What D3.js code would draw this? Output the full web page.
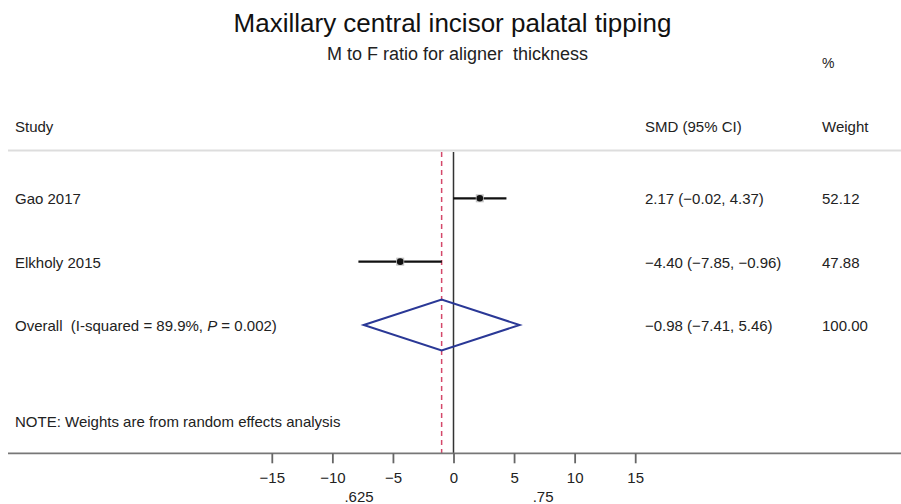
<!DOCTYPE html>
<html><head><meta charset="utf-8">
<script src="https://cdn.jsdelivr.net/npm/d3@7/dist/d3.min.js"></script>
<style>body{margin:0;background:#fff}svg{display:block}text{font-family:"Liberation Sans",Arial,sans-serif;fill:#222;white-space:pre}</style>
</head><body><svg id="c" width="901" height="504"></svg>
<script>
const studies = ["Gao 2017", "Elkholy 2015"];
const smd = [2.17, -4.40];
const lower = [-0.02, -7.85];
const upper = [4.37, -0.96];
const weights = ["52.12", "47.88"];
const overall = {label: "Overall", est: -0.98, lo: -7.41, hi: 5.46, weight: "100.00"};
const ticks = [-15, -10, -5, 0, 5, 10, 15];
const extraLabels = [{v: -7.8, t: ".625"}, {v: 7.4, t: ".75"}];

const svg = d3.select("#c");
const x = d3.scaleLinear().domain([-15, 15]).range([271.8, 635.2]);
const rowY = d3.scalePoint().domain([...studies, "Overall"]).range([198.3, 325]);
const fmt = v => (v < 0 ? "\u2212" : "") + Math.abs(v).toFixed(2);
const ciText = (e, l, h) => `${fmt(e)} (${fmt(l)}, ${fmt(h)})`;

// titles
svg.append("text").attr("x", 452.5).attr("y", 31.5).attr("text-anchor", "middle")
  .style("font-size", "26px").style("fill", "#111").text("Maxillary central incisor palatal tipping");
svg.append("text").attr("x", 457.5).attr("y", 60).attr("text-anchor", "middle")
  .style("font-size", "18px").text("M to F ratio for aligner  thickness");

// headers
svg.append("text").attr("x", 822).attr("y", 68).style("font-size", "14px").text("%");
svg.append("text").attr("x", 15).attr("y", 132).style("font-size", "15px").text("Study");
svg.append("text").attr("x", 645).attr("y", 132).style("font-size", "15px").text("SMD (95% CI)");
svg.append("text").attr("x", 822).attr("y", 132).style("font-size", "15px").text("Weight");
svg.append("line").attr("x1", 8).attr("x2", 901).attr("y1", 150.5).attr("y2", 150.5)
  .attr("stroke", "#ddd").attr("stroke-width", 2);

// reference lines
svg.append("line").attr("x1", x(0)).attr("x2", x(0)).attr("y1", 152).attr("y2", 453)
  .attr("stroke", "#333").attr("stroke-width", 1.5);
svg.append("line").attr("x1", x(overall.est)).attr("x2", x(overall.est)).attr("y1", 152).attr("y2", 453)
  .attr("stroke", "#d4486a").attr("stroke-width", 1.5).attr("stroke-dasharray", "5,4");

// study rows
studies.forEach((s, i) => {
  const y = rowY(s);
  svg.append("text").attr("x", 15).attr("y", y + 6).style("font-size", "15px").text(s);
  svg.append("text").attr("x", 645).attr("y", y + 6).style("font-size", "15px").text(ciText(smd[i], lower[i], upper[i]));
  svg.append("text").attr("x", 822).attr("y", y + 6).style("font-size", "15px").text(weights[i]);
  svg.append("line").attr("x1", x(lower[i])).attr("x2", x(upper[i])).attr("y1", y).attr("y2", y)
    .attr("stroke", "#111").attr("stroke-width", 2.2);
  svg.append("rect").attr("x", x(smd[i]) - 4).attr("y", y - 4).attr("width", 8).attr("height", 8)
    .attr("fill", "#c4c4c4");
  svg.append("circle").attr("cx", x(smd[i])).attr("cy", y).attr("r", 3.3).attr("fill", "#111");
});

// overall
const oy = rowY("Overall");
const ot = svg.append("text").attr("x", 15).attr("y", oy + 6).style("font-size", "15px");
ot.append("tspan").text("Overall  (I-squared = 89.9%, ");
ot.append("tspan").style("font-style", "italic").text("P");
ot.append("tspan").text(" = 0.002)");
svg.append("text").attr("x", 645).attr("y", oy + 6).style("font-size", "15px").text(ciText(overall.est, overall.lo, overall.hi));
svg.append("text").attr("x", 822).attr("y", oy + 6).style("font-size", "15px").text(overall.weight);
const dh = 25.5;
svg.append("path").attr("d", d3.line()([
  [x(overall.lo), oy], [x(overall.est), oy - dh], [x(overall.hi), oy], [x(overall.est), oy + dh]
]) + "Z").attr("fill", "none").attr("stroke", "#2a3896").attr("stroke-width", 2);

// note
svg.append("text").attr("x", 15).attr("y", 427).style("font-size", "15px").text("NOTE: Weights are from random effects analysis");

// axis
svg.append("line").attr("x1", 8).attr("x2", 901).attr("y1", 453.3).attr("y2", 453.3)
  .attr("stroke", "#777").attr("stroke-width", 1.8);
const ax = svg.append("g").attr("transform", "translate(0,453.3)")
  .call(d3.axisBottom(x).tickValues(ticks).tickSize(10).tickPadding(9).tickFormat(d => d < 0 ? "\u2212" + Math.abs(d) : d));
ax.select(".domain").remove();
ax.selectAll(".tick line").attr("stroke", "#666").attr("stroke-width", 1.8);
ax.selectAll(".tick text").style("font-size", "15px").style("font-family", "Liberation Sans, Arial, sans-serif").attr("fill", "#222");
svg.selectAll(".extra").data(extraLabels).enter().append("text")
  .attr("x", d => x(d.v)).attr("y", 502).attr("text-anchor", "middle").style("font-size", "15px").text(d => d.t);
</script></body></html>
